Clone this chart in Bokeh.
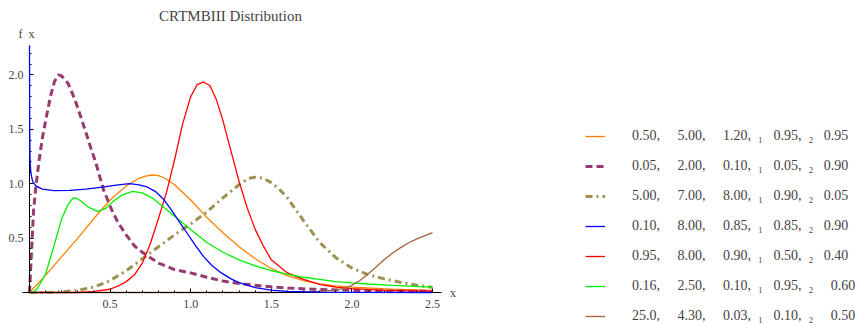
from bokeh.plotting import figure
from bokeh.models import Legend, LegendItem, FixedTicker, Label, NumeralTickFormatter
from bokeh.embed import file_html
from bokeh.resources import INLINE

# ---------------- data ----------------
orange_x = [0, 0.1, 0.2, 0.3, 0.4, 0.5, 0.6, 0.68, 0.72, 0.76, 0.8, 0.84, 0.9, 1.0, 1.1, 1.2,
            1.3, 1.4, 1.5, 1.6, 1.7, 1.8, 1.9, 2.0, 2.25, 2.5]
orange_y = [0, 0.16, 0.33, 0.5, 0.68, 0.85, 0.98, 1.05, 1.07, 1.08, 1.075, 1.05, 0.99, 0.85, 0.69, 0.55,
            0.42, 0.31, 0.22, 0.155, 0.11, 0.08, 0.06, 0.05, 0.03, 0.02]

purple_x = [0, 0.005, 0.015, 0.025, 0.04, 0.06, 0.08, 0.1, 0.13, 0.155, 0.18, 0.2, 0.24, 0.28,
            0.31, 0.35, 0.38, 0.41, 0.46, 0.51, 0.55, 0.6, 0.65, 0.7, 0.75, 0.8, 0.9, 1.0, 1.1,
            1.2, 1.3, 1.4, 1.5, 1.6, 1.75, 2.0, 2.25, 2.5]
purple_y = [0, 0.15, 0.45, 0.75, 0.98, 1.22, 1.42, 1.58, 1.8, 1.94, 2.0, 1.99, 1.92, 1.78,
            1.65, 1.47, 1.33, 1.2, 0.94, 0.76, 0.64, 0.53, 0.43, 0.37, 0.32, 0.27, 0.21, 0.18, 0.14,
            0.105, 0.083, 0.066, 0.052, 0.042, 0.03, 0.02, 0.014, 0.01]

olive_x = [0, 0.1, 0.2, 0.3, 0.4, 0.5, 0.6, 0.7, 0.8, 0.9, 1.0, 1.1, 1.2, 1.3, 1.36, 1.4, 1.45,
           1.5, 1.55, 1.6, 1.7, 1.8, 1.9, 2.0, 2.1, 2.2, 2.3, 2.4, 2.5]
olive_y = [0, 0.0, 0.005, 0.02, 0.05, 0.11, 0.2, 0.31, 0.42, 0.53, 0.63, 0.74, 0.87, 0.99, 1.05, 1.06, 1.05,
           1.01, 0.95, 0.87, 0.66, 0.46, 0.32, 0.225, 0.165, 0.125, 0.095, 0.066, 0.048]

blue_x = [0, 0.001, 0.003, 0.008, 0.02, 0.04, 0.08, 0.15, 0.25, 0.35, 0.45, 0.55, 0.62, 0.68,
          0.73, 0.78, 0.83, 0.88, 0.93, 0.98, 1.03, 1.08, 1.13, 1.19, 1.25, 1.3, 1.4, 1.5, 1.6,
          1.8, 2.0, 2.5]
blue_y = [2.27, 1.6, 1.25, 1.1, 1.02, 0.98, 0.95, 0.937, 0.938, 0.95, 0.968, 0.99, 1.0, 0.99,
          0.97, 0.93, 0.86, 0.76, 0.65, 0.54, 0.43, 0.33, 0.25, 0.18, 0.125, 0.09, 0.045, 0.022, 0.01,
          0.003, 0.001, 0.0]

red_x = [0, 0.3, 0.4, 0.5, 0.55, 0.6, 0.65, 0.7, 0.75, 0.8, 0.85, 0.9, 0.95, 1.0, 1.04, 1.08,
         1.12, 1.16, 1.2, 1.25, 1.3, 1.35, 1.4, 1.45, 1.5, 1.6, 1.7, 1.8, 1.9, 2.0, 2.2, 2.5]
red_y = [0, 0.0, 0.01, 0.03, 0.06, 0.1, 0.16, 0.27, 0.45, 0.68, 0.92, 1.22, 1.55, 1.8, 1.91, 1.935,
         1.9, 1.77, 1.58, 1.3, 1.02, 0.78, 0.58, 0.43, 0.3, 0.18, 0.12, 0.075, 0.05, 0.035, 0.02, 0.01]

green_x = [0, 0.02, 0.05, 0.1, 0.15, 0.2, 0.24, 0.26, 0.275, 0.29, 0.31, 0.36, 0.42, 0.47, 0.52,
           0.58, 0.64, 0.7, 0.76, 0.82, 0.9, 1.0, 1.1, 1.2, 1.3, 1.4, 1.5, 1.6, 1.7, 1.8, 1.9,
           2.0, 2.1, 2.25, 2.5]
green_y = [0, 0.0, 0.04, 0.17, 0.42, 0.68, 0.81, 0.85, 0.87, 0.865, 0.85, 0.79, 0.745, 0.77, 0.84,
           0.9, 0.93, 0.915, 0.87, 0.8, 0.7, 0.58, 0.46, 0.37, 0.3, 0.245, 0.2, 0.168, 0.14, 0.12, 0.1,
           0.088, 0.078, 0.066, 0.05]

brown_x = [0, 1.5, 1.7, 1.8, 1.9, 1.95, 2.0, 2.05, 2.1, 2.15, 2.2, 2.25, 2.3, 2.35, 2.4, 2.45, 2.5]
brown_y = [0, 0.0, 0.003, 0.01, 0.022, 0.038, 0.065, 0.11, 0.17, 0.235, 0.3, 0.36, 0.41, 0.455,
           0.49, 0.52, 0.55]

# legend parameter columns (alpha, beta, lambda, theta1, theta2)
p_a = ["0.50", "0.05", "5.00", "0.10", "0.95", "0.16", "25.0"]
p_b = ["5.00", "2.00", "7.00", "8.00", "8.00", "2.50", "4.30"]
p_c = ["1.20", "0.10", "8.00", "0.85", "0.90", "0.10", "0.03"]
p_t1 = ["0.95", "0.05", "0.90", "0.85", "0.50", "0.95", "0.10"]
p_t2 = ["0.95", "0.90", "0.05", "0.90", "0.40", "0.60", "0.50"]

x_ticks = [0.5, 1.0, 1.5, 2.0, 2.5]
x_minor = [0.1, 0.2, 0.3, 0.4, 0.6, 0.7, 0.8, 0.9, 1.1, 1.2, 1.3, 1.4, 1.6, 1.7, 1.8, 1.9,
           2.1, 2.2, 2.3, 2.4]
y_ticks = [0.5, 1.0, 1.5, 2.0]
y_minor = [0.1, 0.2, 0.3, 0.4, 0.6, 0.7, 0.8, 0.9, 1.1, 1.2, 1.3, 1.4, 1.6, 1.7, 1.8, 1.9,
           2.1, 2.2]

SERIF = "Liberation Serif"

# the frame covers the whole canvas; axes are drawn at x=0 / y=0
p = figure(width=855, height=325, frame_width=855, frame_height=325,
           x_range=(-0.1799, 5.1241), y_range=(-0.3033, 2.6838),
           output_backend="svg", toolbar_location=None,
           min_border_left=0, min_border_right=0, min_border_top=0, min_border_bottom=0)
p.outline_line_color = None
p.grid.visible = False
p.background_fill_color = "white"
p.border_fill_color = "white"

for ax in (p.xaxis[0], p.yaxis[0]):
    ax.fixed_location = 0
    ax.major_label_text_font = SERIF
    ax.major_label_text_font_size = "12px"
    ax.axis_line_color = "black"
    ax.axis_line_width = 1
    ax.major_tick_in = 4
    ax.major_tick_out = 0
    ax.minor_tick_in = 2
    ax.minor_tick_out = 0
    ax.formatter = NumeralTickFormatter(format="0.0")

p.xaxis.bounds = (-0.045, 2.556)
p.yaxis.bounds = (0, 2.27)
p.xaxis.ticker = FixedTicker(ticks=x_ticks, minor_ticks=x_minor)
p.yaxis.ticker = FixedTicker(ticks=y_ticks, minor_ticks=y_minor)
p.xaxis.major_label_standoff = 7
p.yaxis.major_label_standoff = 6

thin = 1.3
r_orange = p.line(orange_x, orange_y, line_color="#FF8000", line_width=thin)
r_purple = p.line(purple_x, purple_y, line_color="#973A70", line_width=3, line_dash="7 4")
r_olive = p.line(olive_x, olive_y, line_color="#9E9050", line_width=3, line_dash="7 4 2 4")
r_blue = p.line(blue_x, blue_y, line_color="#0000FF", line_width=thin, level="overlay")
r_red = p.line(red_x, red_y, line_color="#FF0000", line_width=thin)
r_green = p.line(green_x, green_y, line_color="#00F000", line_width=thin)
r_brown = p.line(brown_x, brown_y, line_color="#A5643C", line_width=thin)
renderers = [r_orange, r_purple, r_olive, r_blue, r_red, r_green, r_brown]

sp = "\u00a0"
labels = []
for a, b, c, t1, t2 in zip(p_a, p_b, p_c, p_t1, p_t2):
    extra = sp * 2 if a in ("0.16", "25.0") else ""
    labels.append(f"{a},{sp*5}{b},{sp*5}{c},{sp*2}\u2081{sp*3}{t1},{sp*2}\u2082{sp*3}{extra}{t2}")

legend = Legend(items=[LegendItem(label=l, renderers=[r]) for l, r in zip(labels, renderers)],
                location=(585, 0), glyph_width=20, glyph_height=18, label_height=18,
                label_width=10, spacing=12, label_standoff=27, padding=0, margin=0,
                border_line_color=None, background_fill_alpha=0,
                label_text_font=SERIF, label_text_font_size="14px")
p.add_layout(legend, "center")

p.add_layout(Label(x=1.247, y=2.537, text="CRTMBIII Distribution", text_font=SERIF,
                   text_font_size="15px", text_align="center", text_baseline="middle"))
p.add_layout(Label(x=-0.068, y=2.38, text="f\u00a0\u00a0x", text_font=SERIF,
                   text_font_size="12px", text_baseline="middle"))
p.add_layout(Label(x=2.608, y=0, text="x", text_font=SERIF,
                   text_font_size="12px", text_baseline="middle"))

open("out.html", "w").write(file_html(p, INLINE))
